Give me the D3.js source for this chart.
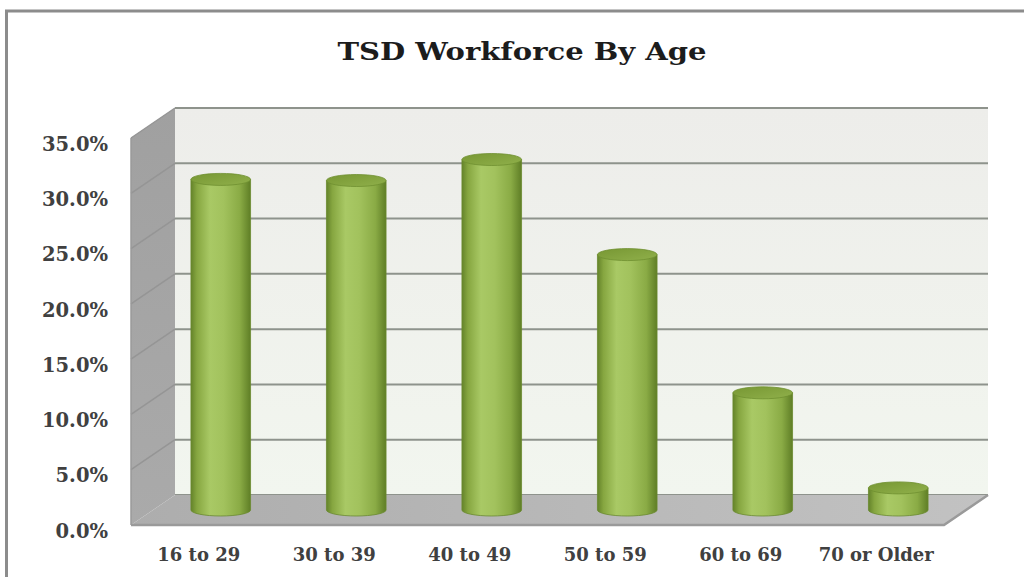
<!DOCTYPE html>
<html>
<head>
<meta charset="utf-8">
<script src="https://cdn.jsdelivr.net/npm/d3@7"></script>
<style>
  html, body { margin: 0; padding: 0; background: #ffffff; }
  svg { display: block; }
  text { font-family: "DejaVu Serif", "Liberation Serif", serif; font-weight: bold; }
</style>
</head>
<body>
<svg id="chart" width="1024" height="577"></svg>
<script>
// Share of TSD workforce per age group (percent)
const categories = ["16 to 29", "30 to 39", "40 to 49", "50 to 59", "60 to 69", "70 or Older"];
const values = [29.9, 29.8, 31.7, 23.1, 10.6, 2.0];
const tickValues = [0, 5, 10, 15, 20, 25, 30, 35];
const chartTitle = "TSD Workforce By Age";

const svg = d3.select("#chart");
const defs = svg.append("defs");

// Front plane scales; the back wall sits one "depth" step behind it
const x = d3.scaleBand().domain(categories).range([131, 944]).padding(0);
const y = d3.scaleLinear().domain([0, 35]).range([525, 138]);
const depth = { dx: 44, dy: -30 };
const barDepth = 0.5;          // bars stand in the middle of the floor
const yMin = y.domain()[0], yMax = y.domain()[1];
const x0 = x.range()[0], x1 = x.range()[1];

// Outer chart frame
svg.append("rect")
  .attr("x", 6.5).attr("y", 11).attr("width", 1100).attr("height", 700)
  .attr("fill", "#ffffff").attr("stroke", "#8c8c8c").attr("stroke-width", 3);

// Gradients
const wallGrad = defs.append("linearGradient").attr("id", "wallGrad")
  .attr("x1", 0).attr("y1", 0).attr("x2", 0).attr("y2", 1);
wallGrad.append("stop").attr("offset", "0%").attr("stop-color", "#ededea");
wallGrad.append("stop").attr("offset", "100%").attr("stop-color", "#f2f6ef");

const sideGrad = defs.append("linearGradient").attr("id", "sideGrad")
  .attr("x1", 0).attr("y1", 0).attr("x2", 0).attr("y2", 1);
sideGrad.append("stop").attr("offset", "0%").attr("stop-color", "#a0a0a0");
sideGrad.append("stop").attr("offset", "100%").attr("stop-color", "#aaaaaa");

const floorGrad = defs.append("linearGradient").attr("id", "floorGrad")
  .attr("x1", 0).attr("y1", 0).attr("x2", 1).attr("y2", 0);
floorGrad.append("stop").attr("offset", "0%").attr("stop-color", "#adadad");
floorGrad.append("stop").attr("offset", "100%").attr("stop-color", "#c2c2c2");

const bodyGrad = defs.append("linearGradient").attr("id", "bodyGrad")
  .attr("x1", 0).attr("y1", 0).attr("x2", 1).attr("y2", 0);
[["0%", "#64832a"], ["10%", "#86a640"], ["32%", "#a9c965"], ["55%", "#a2c25d"],
 ["82%", "#8aab45"], ["100%", "#5f7e26"]].forEach(([o, c]) =>
  bodyGrad.append("stop").attr("offset", o).attr("stop-color", c));

const topGrad = defs.append("linearGradient").attr("id", "topGrad")
  .attr("x1", 0).attr("y1", 0).attr("x2", 1).attr("y2", 1);
topGrad.append("stop").attr("offset", "0%").attr("stop-color", "#779733");
topGrad.append("stop").attr("offset", "100%").attr("stop-color", "#90b04b");

const plot = svg.append("g");

// Back wall
plot.append("path")
  .attr("d", `M${x0 + depth.dx},${y(yMax) + depth.dy}H${x1 + depth.dx}V${y(yMin) + depth.dy}H${x0 + depth.dx}Z`)
  .attr("fill", "url(#wallGrad)");

// Left side wall
plot.append("path")
  .attr("d", `M${x0},${y(yMin)}V${y(yMax)}L${x0 + depth.dx},${y(yMax) + depth.dy}V${y(yMin) + depth.dy}Z`)
  .attr("fill", "url(#sideGrad)");

// Gridlines on the side wall and the back wall
plot.selectAll(".side-grid").data(tickValues.slice(1)).join("line")
  .attr("x1", x0).attr("y1", d => y(d))
  .attr("x2", x0 + depth.dx).attr("y2", d => y(d) + depth.dy)
  .attr("stroke", "#959595").attr("stroke-width", 1.5);

plot.selectAll(".back-grid").data(tickValues).join("line")
  .attr("x1", x0 + depth.dx).attr("x2", x1 + depth.dx)
  .attr("y1", d => y(d) + depth.dy).attr("y2", d => y(d) + depth.dy)
  .attr("stroke", "#8e938c").attr("stroke-width", 2);

// Floor, with a thin front edge
plot.append("path")
  .attr("d", `M${x0},${y(yMin)}L${x0 + depth.dx},${y(yMin) + depth.dy}H${x1 + depth.dx}L${x1},${y(yMin)}Z`)
  .attr("fill", "url(#floorGrad)");
plot.append("path")
  .attr("d", `M${x0},${y(yMin)}H${x1}L${x1 + depth.dx},${y(yMin) + depth.dy}`)
  .attr("fill", "none").attr("stroke", "#9a9a9a").attr("stroke-width", 2.5);
plot.append("line")
  .attr("x1", x0).attr("x2", x0).attr("y1", y(yMax)).attr("y2", y(yMin))
  .attr("stroke", "#9a9a9a").attr("stroke-width", 1.5);

// Cylinders
const rx = x.bandwidth() * 0.22;
const ry = 6;
const bars = plot.selectAll(".bar").data(categories.map((c, i) => ({ c, v: values[i] })))
  .join("g").attr("class", "bar");

bars.append("path")
  .attr("d", d => {
    const cx = x(d.c) + x.bandwidth() / 2 + depth.dx * barDepth;
    const yb = y(0) + depth.dy * barDepth;
    const yt = y(d.v) + depth.dy * barDepth;
    return `M${cx - rx},${yt}V${yb}A${rx},${ry} 0 0 0 ${cx + rx},${yb}V${yt}Z`;
  })
  .attr("fill", "url(#bodyGrad)")
  .attr("stroke", "#6a8a2e").attr("stroke-width", 0.8);

bars.append("ellipse")
  .attr("cx", d => x(d.c) + x.bandwidth() / 2 + depth.dx * barDepth)
  .attr("cy", d => y(d.v) + depth.dy * barDepth)
  .attr("rx", rx).attr("ry", ry)
  .attr("fill", "url(#topGrad)")
  .attr("stroke", "#6f8f30").attr("stroke-width", 0.8);

// Value axis
const yAxis = svg.append("g")
  .attr("transform", "translate(108,6)")
  .call(d3.axisLeft(y).tickValues(tickValues).tickSize(0).tickPadding(0)
    .tickFormat(d => d.toFixed(1) + "%"));
yAxis.select(".domain").remove();
yAxis.selectAll("text")
  .attr("fill", "#404040").attr("font-size", 19.5)
  .attr("font-family", "DejaVu Serif, serif").attr("font-weight", "bold");

// Category axis
const xAxis = svg.append("g")
  .attr("transform", "translate(0,548)")
  .call(d3.axisBottom(x).tickSize(0).tickPadding(0));
xAxis.select(".domain").remove();
xAxis.selectAll("text")
  .attr("fill", "#404040").attr("font-size", 18)
  .attr("font-family", "DejaVu Serif, serif").attr("font-weight", "bold");

// Title
svg.append("text")
  .attr("x", 522).attr("y", 60)
  .attr("text-anchor", "middle")
  .attr("font-size", 24)
  .attr("fill", "#1c1c1c")
  .attr("textLength", 369).attr("lengthAdjust", "spacingAndGlyphs")
  .text(chartTitle);
</script>
</body>
</html>
